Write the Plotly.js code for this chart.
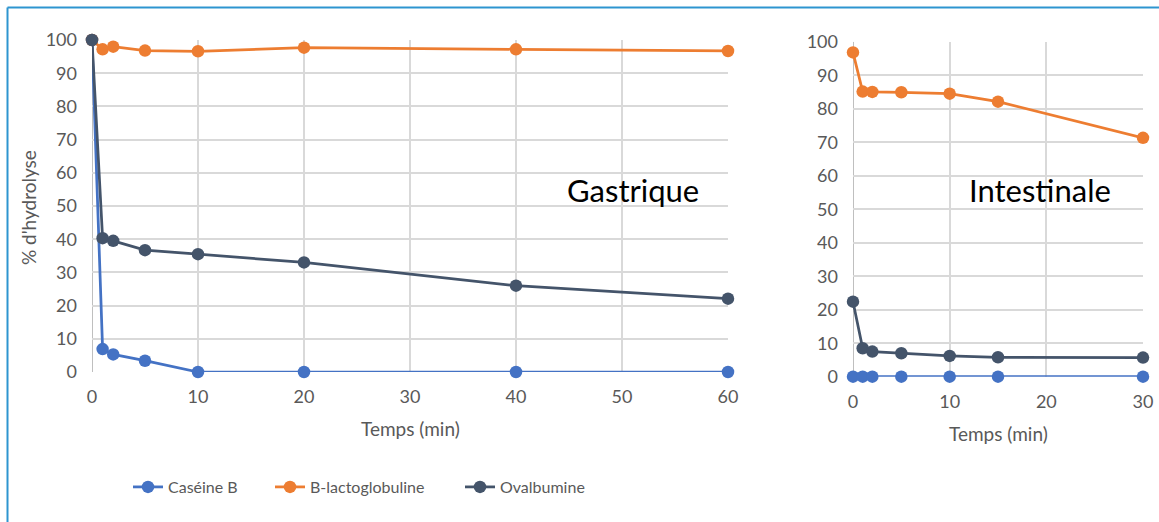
<!DOCTYPE html>
<html>
<head>
<meta charset="utf-8">
<script src="https://cdn.plot.ly/plotly-3.0.1.min.js"></script>
<style>
html,body{margin:0;padding:0;background:#fff;}
#chart{width:1159px;height:522px;}
</style>
</head>
<body>
<div id="chart"></div>
<script>
// Gastric phase
const gastTime = [0, 1, 2, 5, 10, 20, 40, 60];
const gastCaseine = [100, 6.9, 5.3, 3.4, 0, 0, 0, 0];
const gastLacto = [100, 97.2, 98.0, 96.8, 96.6, 97.7, 97.2, 96.7];
const gastOval = [100, 40.3, 39.5, 36.7, 35.5, 33.0, 26.0, 22.1];
// Intestinal phase
const intTime = [0, 1, 2, 5, 10, 15, 30];
const intCaseine = [0, 0, 0, 0, 0, 0, 0];
const intLacto = [96.8, 85.1, 85.0, 84.9, 84.5, 82.1, 71.3];
const intOval = [22.4, 8.5, 7.5, 7.0, 6.2, 5.8, 5.7];

const seriesNames = ['Caséine B', 'B-lactoglobuline', 'Ovalbumine'];
const colors = ['#4472C4', '#ED7D31', '#44546A'];
const legendIds = ['legend', 'legend2', 'legend3'];

function tr(x, y, i, xa, ya, show) {
  return {
    x: x, y: y, type: 'scatter', mode: 'lines+markers',
    name: seriesNames[i], xaxis: xa, yaxis: ya, showlegend: show,
    legend: legendIds[i],
    line: {color: colors[i], width: 2.75},
    marker: {color: colors[i], size: 12.5},
    cliponaxis: false
  };
}

const data = [
  tr(gastTime, gastCaseine, 0, 'x', 'y', true),
  tr(gastTime, gastLacto, 1, 'x', 'y', true),
  tr(gastTime, gastOval, 2, 'x', 'y', true),
  tr(intTime, intCaseine, 0, 'x2', 'y2', false),
  tr(intTime, intLacto, 1, 'x2', 'y2', false),
  tr(intTime, intOval, 2, 'x2', 'y2', false)
];

const W = 1159, H = 522;
const FAM = 'Lato, "Noto Sans", sans-serif';
const tickFont = {family: FAM, size: 18, color: '#595959'};
const titleFont = {family: FAM, size: 19, color: '#595959'};
const legFont = {family: FAM, size: 16, color: '#595959'};
const gridCol = '#d9d9d9';

function xax(domain, range, anchor) {
  return {
    domain: domain, range: range, anchor: anchor, dtick: 10, tick0: 0,
    showgrid: true, gridcolor: gridCol, gridwidth: 2,
    zeroline: false, showline: false, ticks: '',
    tickfont: tickFont, ticklabelstandoff: 12, automargin: false
  };
}
function yax(domain, anchor) {
  return {
    domain: domain, range: [0, 100], anchor: anchor, dtick: 10, tick0: 0,
    showgrid: true, gridcolor: gridCol, gridwidth: 2,
    zeroline: false, showline: false, ticks: '',
    tickfont: tickFont, ticklabelstandoff: 14, automargin: false
  };
}
function leg(xpx) {
  return {
    orientation: 'h', x: xpx / W, y: 1 - 487 / H, xanchor: 'left', yanchor: 'middle',
    font: legFont, bgcolor: 'rgba(0,0,0,0)', borderwidth: 0
  };
}

const layout = {
  width: W, height: H,
  margin: {l: 0, r: 0, t: 0, b: 0, pad: 0},
  paper_bgcolor: '#fff', plot_bgcolor: '#fff',
  font: {family: FAM, color: '#595959'},
  xaxis: xax([92 / W, 728 / W], [0, 60], 'y'),
  yaxis: yax([1 - 372 / H, 1 - 40 / H], 'x'),
  xaxis2: xax([853 / W, 1143 / W], [0, 30], 'y2'),
  yaxis2: yax([1 - 376.7 / H, 1 - 41.7 / H], 'x2'),
  showlegend: true,
  legend: leg(128),
  legend2: leg(270),
  legend3: leg(460),
  annotations: [
    {text: 'Gastrique', xref: 'paper', yref: 'paper', x: 633 / W, y: 1 - 190 / H,
     showarrow: false, xanchor: 'center', yanchor: 'middle',
     font: {family: FAM, size: 31, color: '#000'}},
    {text: 'Intestinale', xref: 'paper', yref: 'paper', x: 1040 / W, y: 1 - 190 / H,
     showarrow: false, xanchor: 'center', yanchor: 'middle',
     font: {family: FAM, size: 31, color: '#000'}},
    {text: 'Temps (min)', xref: 'paper', yref: 'paper', x: 410 / W, y: 1 - 428 / H,
     showarrow: false, xanchor: 'center', yanchor: 'middle', font: titleFont},
    {text: 'Temps (min)', xref: 'paper', yref: 'paper', x: 998 / W, y: 1 - 433 / H,
     showarrow: false, xanchor: 'center', yanchor: 'middle', font: titleFont},
    {text: "% d'hydrolyse", xref: 'paper', yref: 'paper', x: 28 / W, y: 1 - 208 / H,
     showarrow: false, xanchor: 'center', yanchor: 'middle', textangle: -90, font: titleFont}
  ],
  shapes: [
    {type: 'line', xref: 'paper', yref: 'paper', x0: 7.5 / W, x1: 1, y0: 1 - 7.5 / H, y1: 1 - 7.5 / H,
     line: {color: '#2E95D0', width: 2}},
    {type: 'line', xref: 'paper', yref: 'paper', x0: 7.5 / W, x1: 7.5 / W, y0: 0, y1: 1 - 7.5 / H,
     line: {color: '#2E95D0', width: 2}},
    {type: 'line', xref: 'x', yref: 'y', x0: 0, x1: 0, y0: 0, y1: 100, layer: 'below',
     line: {color: '#bfbfbf', width: 2}},
    {type: 'line', xref: 'x2', yref: 'y2', x0: 0, x1: 0, y0: 0, y1: 100, layer: 'below',
     line: {color: '#bfbfbf', width: 2}}
  ]
};

Plotly.newPlot('chart', data, layout, {displayModeBar: false, staticPlot: true});
</script>
</body>
</html>
